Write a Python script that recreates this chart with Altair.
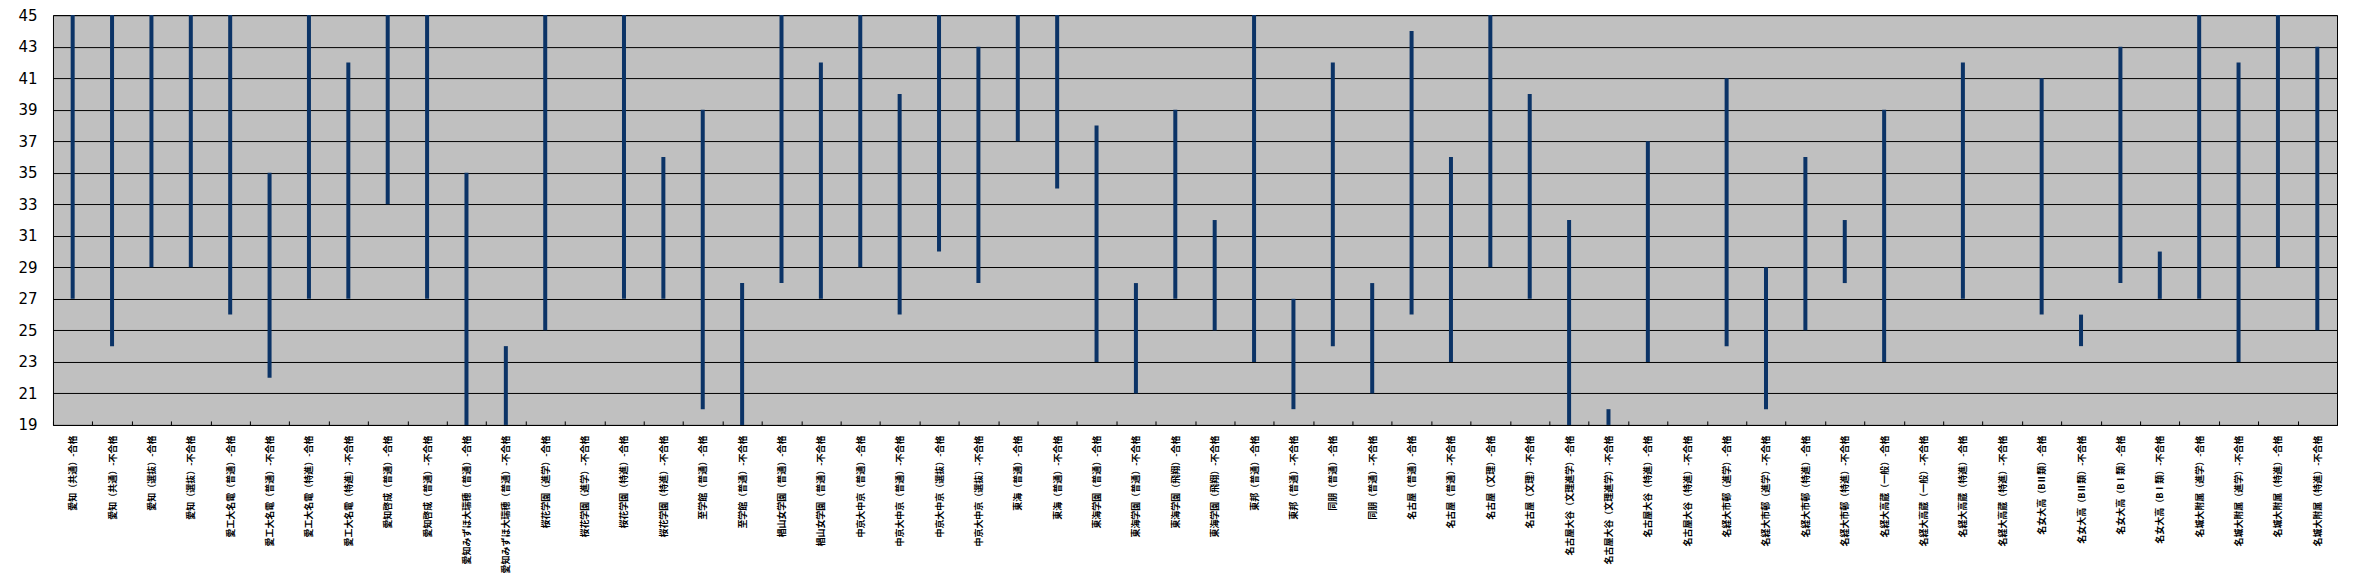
import altair as alt
import pandas as pd

categories = [
    "愛知（共通）-合格", "愛知（共通）-不合格",
    "愛知（選抜）-合格", "愛知（選抜）-不合格",
    "愛工大名電（普通）-合格", "愛工大名電（普通）-不合格",
    "愛工大名電（特進）-合格", "愛工大名電（特進）-不合格",
    "愛知啓成（普通）-合格", "愛知啓成（普通）-不合格",
    "愛知みずほ大瑞穂（普通）-合格", "愛知みずほ大瑞穂（普通）-不合格",
    "桜花学園（進学）-合格", "桜花学園（進学）-不合格",
    "桜花学園（特進）-合格", "桜花学園（特進）-不合格",
    "至学館（普通）-合格", "至学館（普通）-不合格",
    "椙山女学園（普通）-合格", "椙山女学園（普通）-不合格",
    "中京大中京（普通）-合格", "中京大中京（普通）-不合格",
    "中京大中京（選抜）-合格", "中京大中京（選抜）-不合格",
    "東海（普通）-合格", "東海（普通）-不合格",
    "東海学園（普通）-合格", "東海学園（普通）-不合格",
    "東海学園（飛翔）-合格", "東海学園（飛翔）-不合格",
    "東邦（普通）-合格", "東邦（普通）-不合格",
    "同朋（普通）-合格", "同朋（普通）-不合格",
    "名古屋（普通）-合格", "名古屋（普通）-不合格",
    "名古屋（文理）-合格", "名古屋（文理）-不合格",
    "名古屋大谷（文理進学）-合格", "名古屋大谷（文理進学）-不合格",
    "名古屋大谷（特進）-合格", "名古屋大谷（特進）-不合格",
    "名経大市邨（進学）-合格", "名経大市邨（進学）-不合格",
    "名経大市邨（特進）-合格", "名経大市邨（特進）-不合格",
    "名経大高蔵（一般）-合格", "名経大高蔵（一般）-不合格",
    "名経大高蔵（特進）-合格", "名経大高蔵（特進）-不合格",
    "名女大高（BⅡ類）-合格", "名女大高（BⅡ類）-不合格",
    "名女大高（BⅠ類）-合格", "名女大高（BⅠ類）-不合格",
    "名城大附属（進学）-合格", "名城大附属（進学）-不合格",
    "名城大附属（特進）-合格", "名城大附属（特進）-不合格",
]

low = [
    27, 24, 29, 29, 26, 22, 27, 27, 33, 27, 19, 19, 25, None, 27, 27,
    20, 19, 28, 27, 29, 26, 30, 28, 37, 34, 23, 21, 27, 25, 23, 20,
    24, 21, 26, 23, 29, 27, 19, 19, 23, None, 24, 20, 25, 28, 23, None,
    27, None, 26, 24, 28, 27, 27, 23, 29, 25,
]
high = [
    45, 45, 45, 45, 45, 35, 45, 42, 45, 45, 35, 24, 45, None, 45, 36,
    39, 28, 45, 42, 45, 40, 45, 43, 45, 45, 38, 28, 39, 32, 45, 27,
    42, 28, 44, 36, 45, 40, 32, 20, 37, None, 41, 29, 36, 32, 39, None,
    42, None, 41, 26, 43, 30, 45, 42, 45, 43,
]

y_ticks = list(range(19, 46, 2))

df = pd.DataFrame({"cat": categories, "low": low, "high": high})

chart = (
    alt.Chart(df)
    .mark_rule(color="#0B3366", strokeWidth=4)
    .encode(
        x=alt.X(
            "cat:N",
            scale=alt.Scale(type="band", domain=categories, paddingInner=0, paddingOuter=0),
            axis=alt.Axis(
                title=None,
                labelAngle=270,
                labelAlign="right",
                labelBaseline="middle",
                labelFont="Noto Sans CJK JP",
                labelFontSize=9,
                labelFontWeight="bold",
                labelColor="black",
                labelLimit=300,
                labelOverlap=False,
                labelPadding=10,
                tickBand="extent",
                tickSize=4,
                tickColor="black",
                tickWidth=1,
                domain=False,
                offset=-4,
                grid=False,
            ),
        ),
        y=alt.Y(
            "low:Q",
            scale=alt.Scale(domain=[19, 45], nice=False, zero=False),
            axis=alt.Axis(
                title=None,
                values=y_ticks,
                labelFont="DejaVu Sans",
                labelFontSize=15,
                labelColor="black",
                labelPadding=16,
                ticks=False,
                domain=False,
                grid=True,
                gridColor="black",
                gridWidth=1,
                gridOpacity=1,
            ),
        ),
        y2="high:Q",
    )
    .properties(
        width=2285,
        height=410,
        autosize=alt.AutoSizeParams(type="none"),
        padding={"left": 45, "top": 7, "right": 10, "bottom": 150},
    )
    .configure(
        background="white",
        view=alt.ViewConfig(fill="#C0C0C0", stroke="black", strokeWidth=1),
    )
)

chart.save("out.html", embed_options={"renderer": "svg", "actions": False})
